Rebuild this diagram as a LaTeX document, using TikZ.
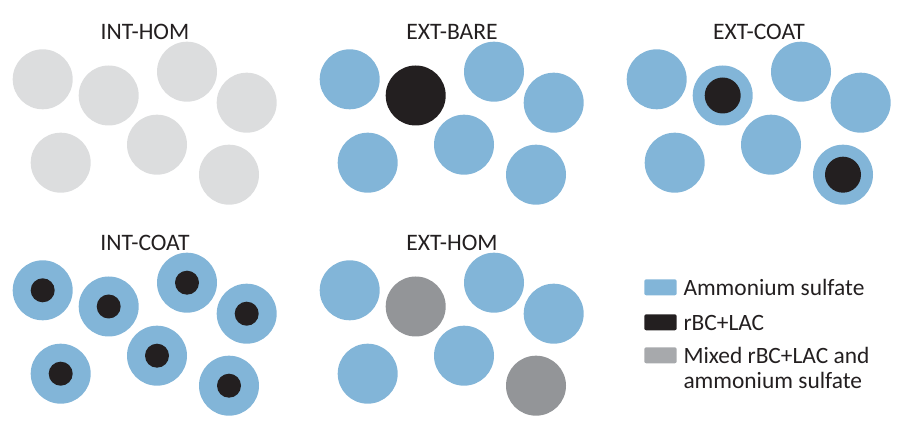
\documentclass[tikz,border=0pt]{standalone}
\usepackage{fontspec}
\setmainfont{Carlito}
\definecolor{lgrey}{HTML}{DCDDDE}
\definecolor{sblue}{HTML}{82B5D8}
\definecolor{sblack}{HTML}{231F20}
\definecolor{mgrey}{HTML}{939598}
\definecolor{swgrey}{HTML}{A7A9AC}
\tikzset{
  ball/.style={circle, draw=none, minimum size=60pt, inner sep=0pt},
  coreB/.style={circle, draw=none, fill=sblack, minimum size=36pt, inner sep=0pt},
  coreS/.style={circle, draw=none, fill=sblack, minimum size=24pt, inner sep=0pt},
  title/.style={anchor=base, inner sep=0pt, text=sblack, font=\fontsize{23.6}{25}\selectfont},
  legtext/.style={anchor=base west, inner sep=0pt, text=sblack, font=\fontsize{23.4}{25}\selectfont},
  swatch/.style={draw=none, rounded corners=2pt}
}
\begin{document}
\begin{tikzpicture}[x=1pt,y=-1pt]
\useasboundingbox (0,0) rectangle (898,427);
% ---------- INT-HOM ----------
\node[title] (t1) at (145,39.3) {INT-HOM};
\foreach \i/\x/\y in {1/42.7/79.3,2/108.7/95.5,3/187/71.7,4/246.7/102.7,5/157/144.7,6/60.7/162.7,7/229/174.7}
  \node[ball, fill=lgrey] (ih\i) at (\x,\y) {};
% ---------- EXT-BARE ----------
\begin{scope}[shift={(307,0)}]
\node[title] (t2) at (145,39.3) {EXT-BARE};
\foreach \i/\x/\y in {1/42.7/79.3,3/187/71.7,4/246.7/102.7,5/157/144.7,6/60.7/162.7,7/229/174.7}
  \node[ball, fill=sblue] (eb\i) at (\x,\y) {};
\node[ball, fill=sblack] (eb2) at (108.7,95.5) {};
\end{scope}
% ---------- EXT-COAT ----------
\begin{scope}[shift={(614,0)}]
\node[title] (t3) at (145,39.3) {EXT-COAT};
\foreach \i/\x/\y in {1/42.7/79.3,2/108.7/95.5,3/187/71.7,4/246.7/102.7,5/157/144.7,6/60.7/162.7,7/229/174.7}
  \node[ball, fill=sblue] (ec\i) at (\x,\y) {};
\node[coreB] (ecc2) at (ec2) {};
\node[coreB] (ecc7) at (ec7) {};
\end{scope}
% ---------- INT-COAT ----------
\begin{scope}[shift={(0,211)}]
\node[title] (t4) at (145,39.3) {INT-COAT};
\foreach \i/\x/\y in {1/42.7/79.3,2/108.7/95.5,3/187/71.7,4/246.7/102.7,5/157/144.7,6/60.7/162.7,7/229/174.7}{
  \node[ball, fill=sblue] (ic\i) at (\x,\y) {};
  \node[coreS] (icc\i) at (ic\i) {};
}
\end{scope}
% ---------- EXT-HOM ----------
\begin{scope}[shift={(307,211)}]
\node[title] (t5) at (145,39.3) {EXT-HOM};
\foreach \i/\x/\y in {1/42.7/79.3,3/187/71.7,4/246.7/102.7,5/157/144.7,6/60.7/162.7}
  \node[ball, fill=sblue] (eh\i) at (\x,\y) {};
\node[ball, fill=mgrey] (eh2) at (108.7,95.5) {};
\node[ball, fill=mgrey] (eh7) at (229,174.7) {};
\end{scope}
% ---------- Legend ----------
\fill[swatch, sblue] (644.3,279.3) rectangle (676.7,295.3);
\fill[swatch, sblack] (644.3,314.3) rectangle (676.7,330.3);
\fill[swatch, swgrey] (644.3,347.3) rectangle (676.7,363.3);
\node[legtext] (l1) at (683.3,295.7) {Ammonium sulfate};
\node[legtext] (l2) at (683.3,330.3) {rBC+LAC};
\node[legtext] (l3) at (683.3,363.3) {Mixed rBC+LAC and};
\node[legtext] (l3b) at (683.3,388.3) {ammonium sulfate};
\end{tikzpicture}
\end{document}
